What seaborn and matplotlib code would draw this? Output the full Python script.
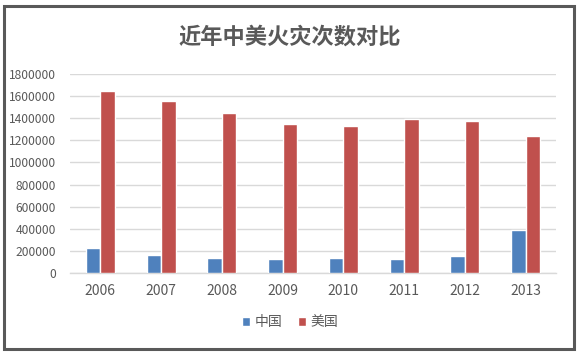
import matplotlib
matplotlib.use("Agg")
import matplotlib.pyplot as plt
import seaborn as sns
import pandas as pd
from matplotlib.patches import Rectangle

years = ["2006", "2007", "2008", "2009", "2010", "2011", "2012", "2013"]
china = [222702, 163521, 136835, 129382, 132497, 125402, 152157, 388821]
usa = [1642500, 1557500, 1451500, 1348500, 1331500, 1389500, 1375000, 1240000]
series_names = ["中国", "美国"]
title = "近年中美火灾次数对比"
yticks = [0, 200000, 400000, 600000, 800000, 1000000, 1200000, 1400000, 1600000, 1800000]

df = pd.DataFrame({
    "year": years * 2,
    "value": china + usa,
    "series": [series_names[0]] * len(years) + [series_names[1]] * len(years),
})

sns.set_theme(style="white")
plt.rcParams['font.family'] = ['Noto Sans CJK SC', 'DejaVu Sans']

W, H = 580, 353
fig = plt.figure(figsize=(W / 100, H / 100), dpi=100)
fig.patch.set_facecolor("white")

ax = fig.add_axes([70 / W, 1 - 273 / H, (556 - 70) / W, (273 - 74) / H])
palette = {"中国": "#4F81BD", "美国": "#C0504D"}
sns.barplot(data=df, x="year", y="value", hue="series", palette=palette,
            width=0.48, dodge=True, ax=ax, saturation=1, legend=True, zorder=3)

ax.set_xlim(-0.5, len(years) - 0.5)
ax.set_ylim(0, 1800000)
ax.set_yticks(yticks)
ax.set_yticklabels([str(v) for v in yticks])
ax.yaxis.grid(True, color="#D9D9D9", linewidth=1, zorder=0)
ax.set_axisbelow(True)
for s in ["top", "right", "left"]:
    ax.spines[s].set_visible(False)
ax.spines["bottom"].set_color("#D9D9D9")
ax.spines["bottom"].set_linewidth(1)
ax.set_xlabel("")
ax.set_ylabel("")
ax.tick_params(axis="both", length=0, colors="#595959")
ax.tick_params(axis="x", pad=8, labelsize=10)
ax.tick_params(axis="y", pad=10, labelsize=8.7)

leg = ax.legend(loc="center", bbox_to_anchor=(0.5, 1 - 322 / H), bbox_transform=fig.transFigure,
                ncol=2, frameon=False, fontsize=10, handlelength=0.6, handleheight=0.6,
                handletextpad=0.3, columnspacing=1.1, labelcolor="#595959")

fig.text(0.5, 1 - 37 / H, title, ha="center", va="center", fontsize=16,
         fontweight="bold", color="#595959")

fig.patches.append(Rectangle((3.5 / W, 4 / H), (574 - 3.5) / W, (349 - 5.5) / H,
                             transform=fig.transFigure, fill=False,
                             edgecolor="#595959", linewidth=2.2, figure=fig))

fig.savefig("out.png", dpi=100, facecolor="white")
